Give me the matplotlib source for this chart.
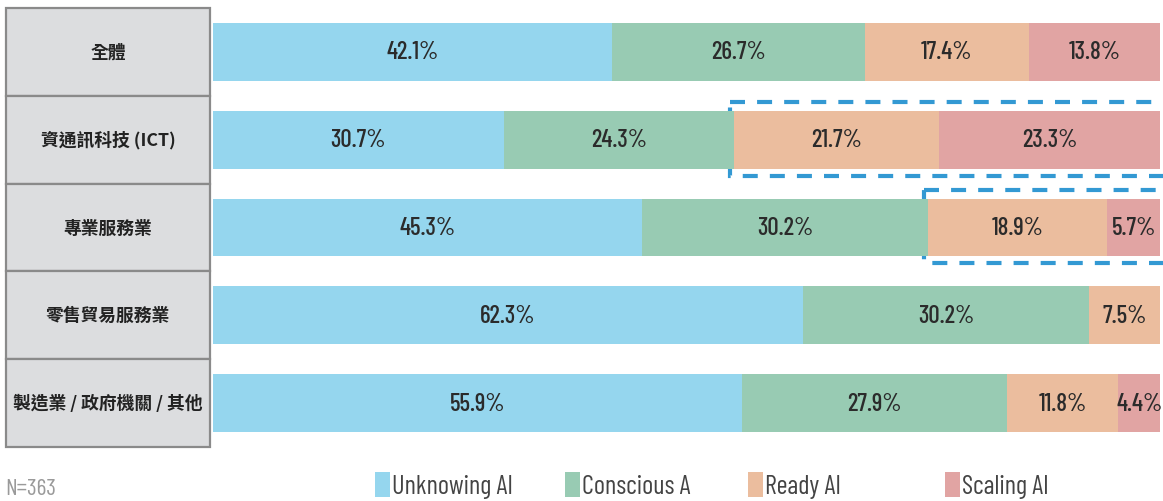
import matplotlib
matplotlib.use('Agg')
import matplotlib.pyplot as plt
from matplotlib.patches import Rectangle
import numpy as np

# data
categories = ['全體', '資通訊科技 (ICT)', '專業服務業', '零售貿易服務業', '製造業 / 政府機關 / 其他']
series = ['Unknowing AI', 'Conscious A', 'Ready AI', 'Scaling AI']
unknowing = [42.1, 30.7, 45.3, 62.3, 55.9]
conscious = [26.7, 24.3, 30.2, 30.2, 27.9]
ready = [17.4, 21.7, 18.9, 7.5, 11.8]
scaling = [13.8, 23.3, 5.7, 0.0, 4.4]
highlight_rows = [1, 2]
note = 'N=363'

colors = ['#95d6ee', '#98cbb3', '#ebbd9e', '#e1a4a3']
num_font = ['Barlow Condensed', 'Archivo Narrow', 'DejaVu Sans']
cjk_font = ['Noto Sans CJK TC', 'DejaVu Sans']

W, H = 1163, 502
fig = plt.figure(figsize=(W / 100, H / 100), dpi=100)

top_px, bot_px = 9, 448
bottom = (H - bot_px) / H
height = (bot_px - top_px) / H

ax = fig.add_axes([213 / W, bottom, 947 / W, height])
ax.set_xlim(0, 100)
ax.set_ylim(4.5, -0.5)
ax.axis('off')

vals = np.array([unknowing, conscious, ready, scaling])
y = np.arange(len(categories))
left = np.zeros(len(categories))
for k in range(len(series)):
    ax.barh(y, vals[k], left=left, height=0.66, color=colors[k], zorder=2)
    for i in range(len(categories)):
        v = vals[k][i]
        if v > 0:
            ax.text(left[i] + v / 2, y[i], f'{v:.1f}%', ha='center', va='center',
                    fontsize=18, fontweight='medium', color='#2b2b2b',
                    family=num_font, zorder=3)
    left += vals[k]

# dashed highlight boxes around Ready + Scaling
for i in highlight_rows:
    x0 = unknowing[i] + conscious[i] - 0.4
    r = Rectangle((x0, y[i] - 0.43), 103 - x0, 0.84, fill=False,
                  edgecolor='#3399d3', lw=3, linestyle=(0, (3.6, 2.9)),
                  zorder=1, clip_on=False)
    ax.add_patch(r)

# category label boxes
lax = fig.add_axes([6 / W, bottom, 204 / W, height])
lax.set_xlim(0, 1)
lax.set_ylim(4.5, -0.5)
lax.axis('off')
for i, cat in enumerate(categories):
    lax.add_patch(Rectangle((0, i - 0.5), 1, 1, facecolor='#dcdddf',
                            edgecolor='#8a8a8a', lw=1.6, clip_on=False))
    lax.text(0.5, i, cat, ha='center', va='center', fontsize=12.8,
             fontweight='bold', color='#222222', family=cjk_font)

# legend
leg_x = [375, 565, 748, 945]
for k, name in enumerate(series):
    fig.patches.append(Rectangle((leg_x[k] / W, (H - 498) / H), 15 / W, 25 / H,
                                 facecolor=colors[k], transform=fig.transFigure))
    fig.text((leg_x[k] + 17) / W, (H - 487) / H, name, ha='left', va='center',
             fontsize=19, color='#444444', family=num_font)

fig.text(5 / W, (H - 490) / H, note, ha='left', va='center', fontsize=17,
         color='#9a9a9a', family=num_font)

plt.savefig('out.png', dpi=100)
